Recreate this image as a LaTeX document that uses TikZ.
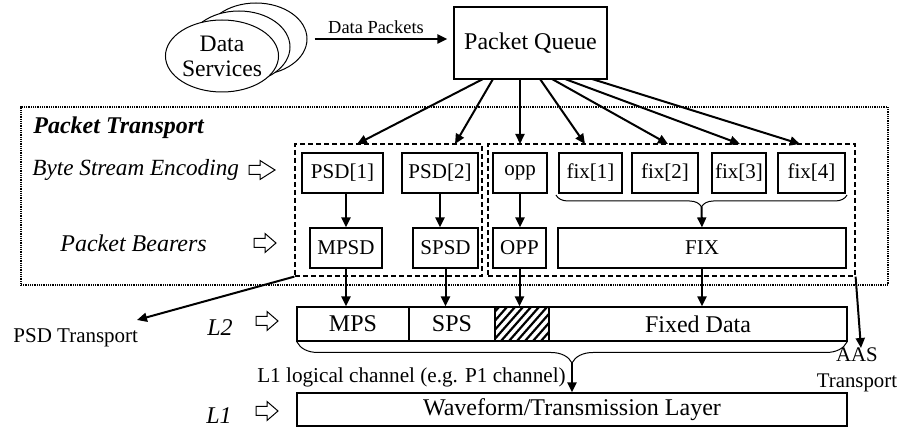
\documentclass[tikz,border=0pt]{standalone}
\usepackage{fontspec}
\setmainfont{Liberation Serif}
\usetikzlibrary{arrows.meta,decorations.pathreplacing,shapes.geometric}
\newcommand{\holarrow}[3]{\draw[line width=0.5pt] (#1,#2) ++(0,-4.5) -- ++(11,0) -- ++(0,-5) -- ++(#3-11,9.5) -- ++(11-#3,9.5) -- ++(0,-5) -- ++(-11,0) -- cycle;}
\tikzset{
 bx/.style={draw, line width=0.6pt, inner sep=0pt, minimum height=20pt, font=\fontsize{10.5}{12}\selectfont},
 cell/.style={draw, line width=0.6pt, inner sep=0pt, minimum height=17pt, font=\fontsize{12}{14}\selectfont},
 arr/.style={line width=1pt, -{Triangle[length=5pt,width=4.5pt]}},
 grp/.style={draw, line width=0.6pt, dash pattern=on 2.5pt off 1.5pt, inner sep=0pt},
 lab/.style={font=\fontsize{12}{14}\selectfont\itshape, anchor=west, inner sep=0pt},
 ell/.style={draw, ellipse, fill=white, line width=0.5pt, minimum width=51pt, minimum height=36pt, inner sep=0pt},
 brc/.style={line width=0.5pt, decorate},
}
\begin{document}
\begin{tikzpicture}[x=0.5pt,y=-0.5pt]
\useasboundingbox (0,0) rectangle (902,427);

% Data services
\node[ell] (ds3) at (256,39) {};
\node[ell] (ds2) at (239,47) {};
\node[ell, align=center, font=\fontsize{11.8}{12.5}\selectfont] (ds1) at (222,56) {Data\\Services};

% Packet queue
\node[draw, line width=0.6pt, inner sep=0pt, minimum width=76.5pt, minimum height=36pt, font=\fontsize{12}{14}\selectfont] (pq) at (530.5,43) {Packet Queue};
\draw[arr, shorten >=3pt] ([xshift=3.5pt]ds3.east) -- (ds3.east -| pq.west);
\node[font=\fontsize{9.2}{11}\selectfont, inner sep=0pt] (dplab) at (376,27) {Data Packets};

% Outer packet transport box
\node[draw, line width=0.85pt, dash pattern=on 0.5pt off 0.4pt, inner sep=0pt, minimum width=433.5pt, minimum height=89pt] (outer) at (454.5,196) {};
\node[lab, font=\fontsize{12}{14}\selectfont\bfseries\itshape] (ptlab) at (33,128) {Packet Transport};
\node[lab, font=\fontsize{11.6}{14}\selectfont\itshape] (bselab) at (32,170) {Byte Stream Encoding};
\node[lab] (pblab) at (60,243) {Packet Bearers};
\node[lab] (l2lab) at (207,328) {L2};
\node[lab] (l1lab) at (206,416) {L1};
\holarrow{249}{170}{26}
\holarrow{254}{243}{22}
\holarrow{256}{321}{22}
\holarrow{256}{411}{22}

% groups
\node[grp, minimum width=93.5pt, minimum height=66pt] (psdgrp) at (388.5,210) {};
\node[grp, minimum width=183.5pt, minimum height=66pt] (aasgrp) at (671.5,210) {};

% first row
\node[bx, minimum width=40.5pt] (psd1) at (342.5,173) {PSD[1]};
\node[bx, minimum width=38pt] (psd2) at (440,173) {PSD[2]};
\node[bx, minimum width=27pt] (opp) at (520,173) {opp};
\node[bx, minimum width=31.5pt] (fix1) at (590.5,173) {fix[1]};
\node[bx, minimum width=33pt] (fix2) at (665,173) {fix[2]};
\node[bx, minimum width=27pt] (fix3) at (739,173) {fix[3]};
\node[bx, minimum width=33.5pt] (fix4) at (811.5,173) {fix[4]};

% second row
\node[bx, minimum width=36pt] (mpsd) at (346,248) {MPSD};
\node[bx, minimum width=32.5pt] (spsd) at (445.5,248) {SPSD};
\node[bx, minimum width=26.5pt] (OPP) at (519.5,248) {OPP};
\node[bx, minimum width=144pt] (FIX) at (702,248) {FIX};

% L2 row
\node[cell, minimum width=56pt] (mps) at (353,324) {MPS};
\node[cell, minimum width=43pt] (sps) at (452,324) {SPS};
\node[cell, minimum width=27pt] (hat) at (522,324) {};
\node[cell, minimum width=149pt] (fixd) at (698,324) {Fixed Data};
\begin{scope}
\clip (hat.south west) rectangle (hat.north east);
\foreach \i in {0,...,12} \draw[line width=1.1pt] (461+\i*8,341) -- ++(30,-34);
\end{scope}
\draw[line width=0.6pt] (hat.south west) rectangle (hat.north east);

% L1
\node[cell, minimum width=275pt, minimum height=16.5pt] (wave) at (572,409.5) {Waveform/Transmission Layer};
\node[font=\fontsize{10.6}{12}\selectfont, inner sep=0pt] (l1ch) at (411.5,377) {L1 logical channel (e.g. P1 channel)};

% packet queue fan-out
\foreach \n/\sx/\ex in {a/483/357, b/493/455, c/520/520, d/540/585, e/552/668, f/565/740, g/592/800} {
  \coordinate (s\n) at (\sx,79);
  \coordinate (e\n) at (\ex,144);
  \draw[arr] (s\n) -- (e\n);
}

% vertical arrows
\draw[arr] (psd1.south -| mpsd.north) -- (mpsd.north);
\draw[arr] (psd2.south) -- (psd2.south |- spsd.north);
\draw[arr] (opp.south) -- (opp.south |- OPP.north);
\draw[arr] (mpsd.south) -- (mpsd.south |- mps.north);
\draw[arr] (spsd.south) -- (spsd.south |- sps.north);
\draw[arr] (OPP.south) -- (OPP.south |- hat.north);
\draw[arr] (FIX.south) -- (FIX.south |- fixd.north);

% braces
\draw[brc, decoration={brace, amplitude=6pt}] (847,195) -- (556,195);
\coordinate (fbt) at (701.5,207);
\draw[arr] (fbt) -- (FIX.north);
\draw[brc, decoration={brace, amplitude=10.5pt}] (847,342) -- (297,342);
\coordinate (lbt) at (572,363);
\draw[arr] (lbt) -- (wave.north);

% transports
\coordinate (psdt) at (137,320);
\draw[arr] (psdgrp.south west) -- (psdt);
\node[anchor=west, inner sep=0pt, font=\fontsize{10.5}{12}\selectfont] (psdlab) at (13,338) {PSD Transport};
\coordinate (aast) at (861,348);
\draw[arr] (aasgrp.south east) -- (aast);
\node[align=center, inner sep=0pt, font=\fontsize{10.4}{13}\selectfont] (aaslab) at (857,370) {AAS\\Transport};
\end{tikzpicture}
\end{document}
